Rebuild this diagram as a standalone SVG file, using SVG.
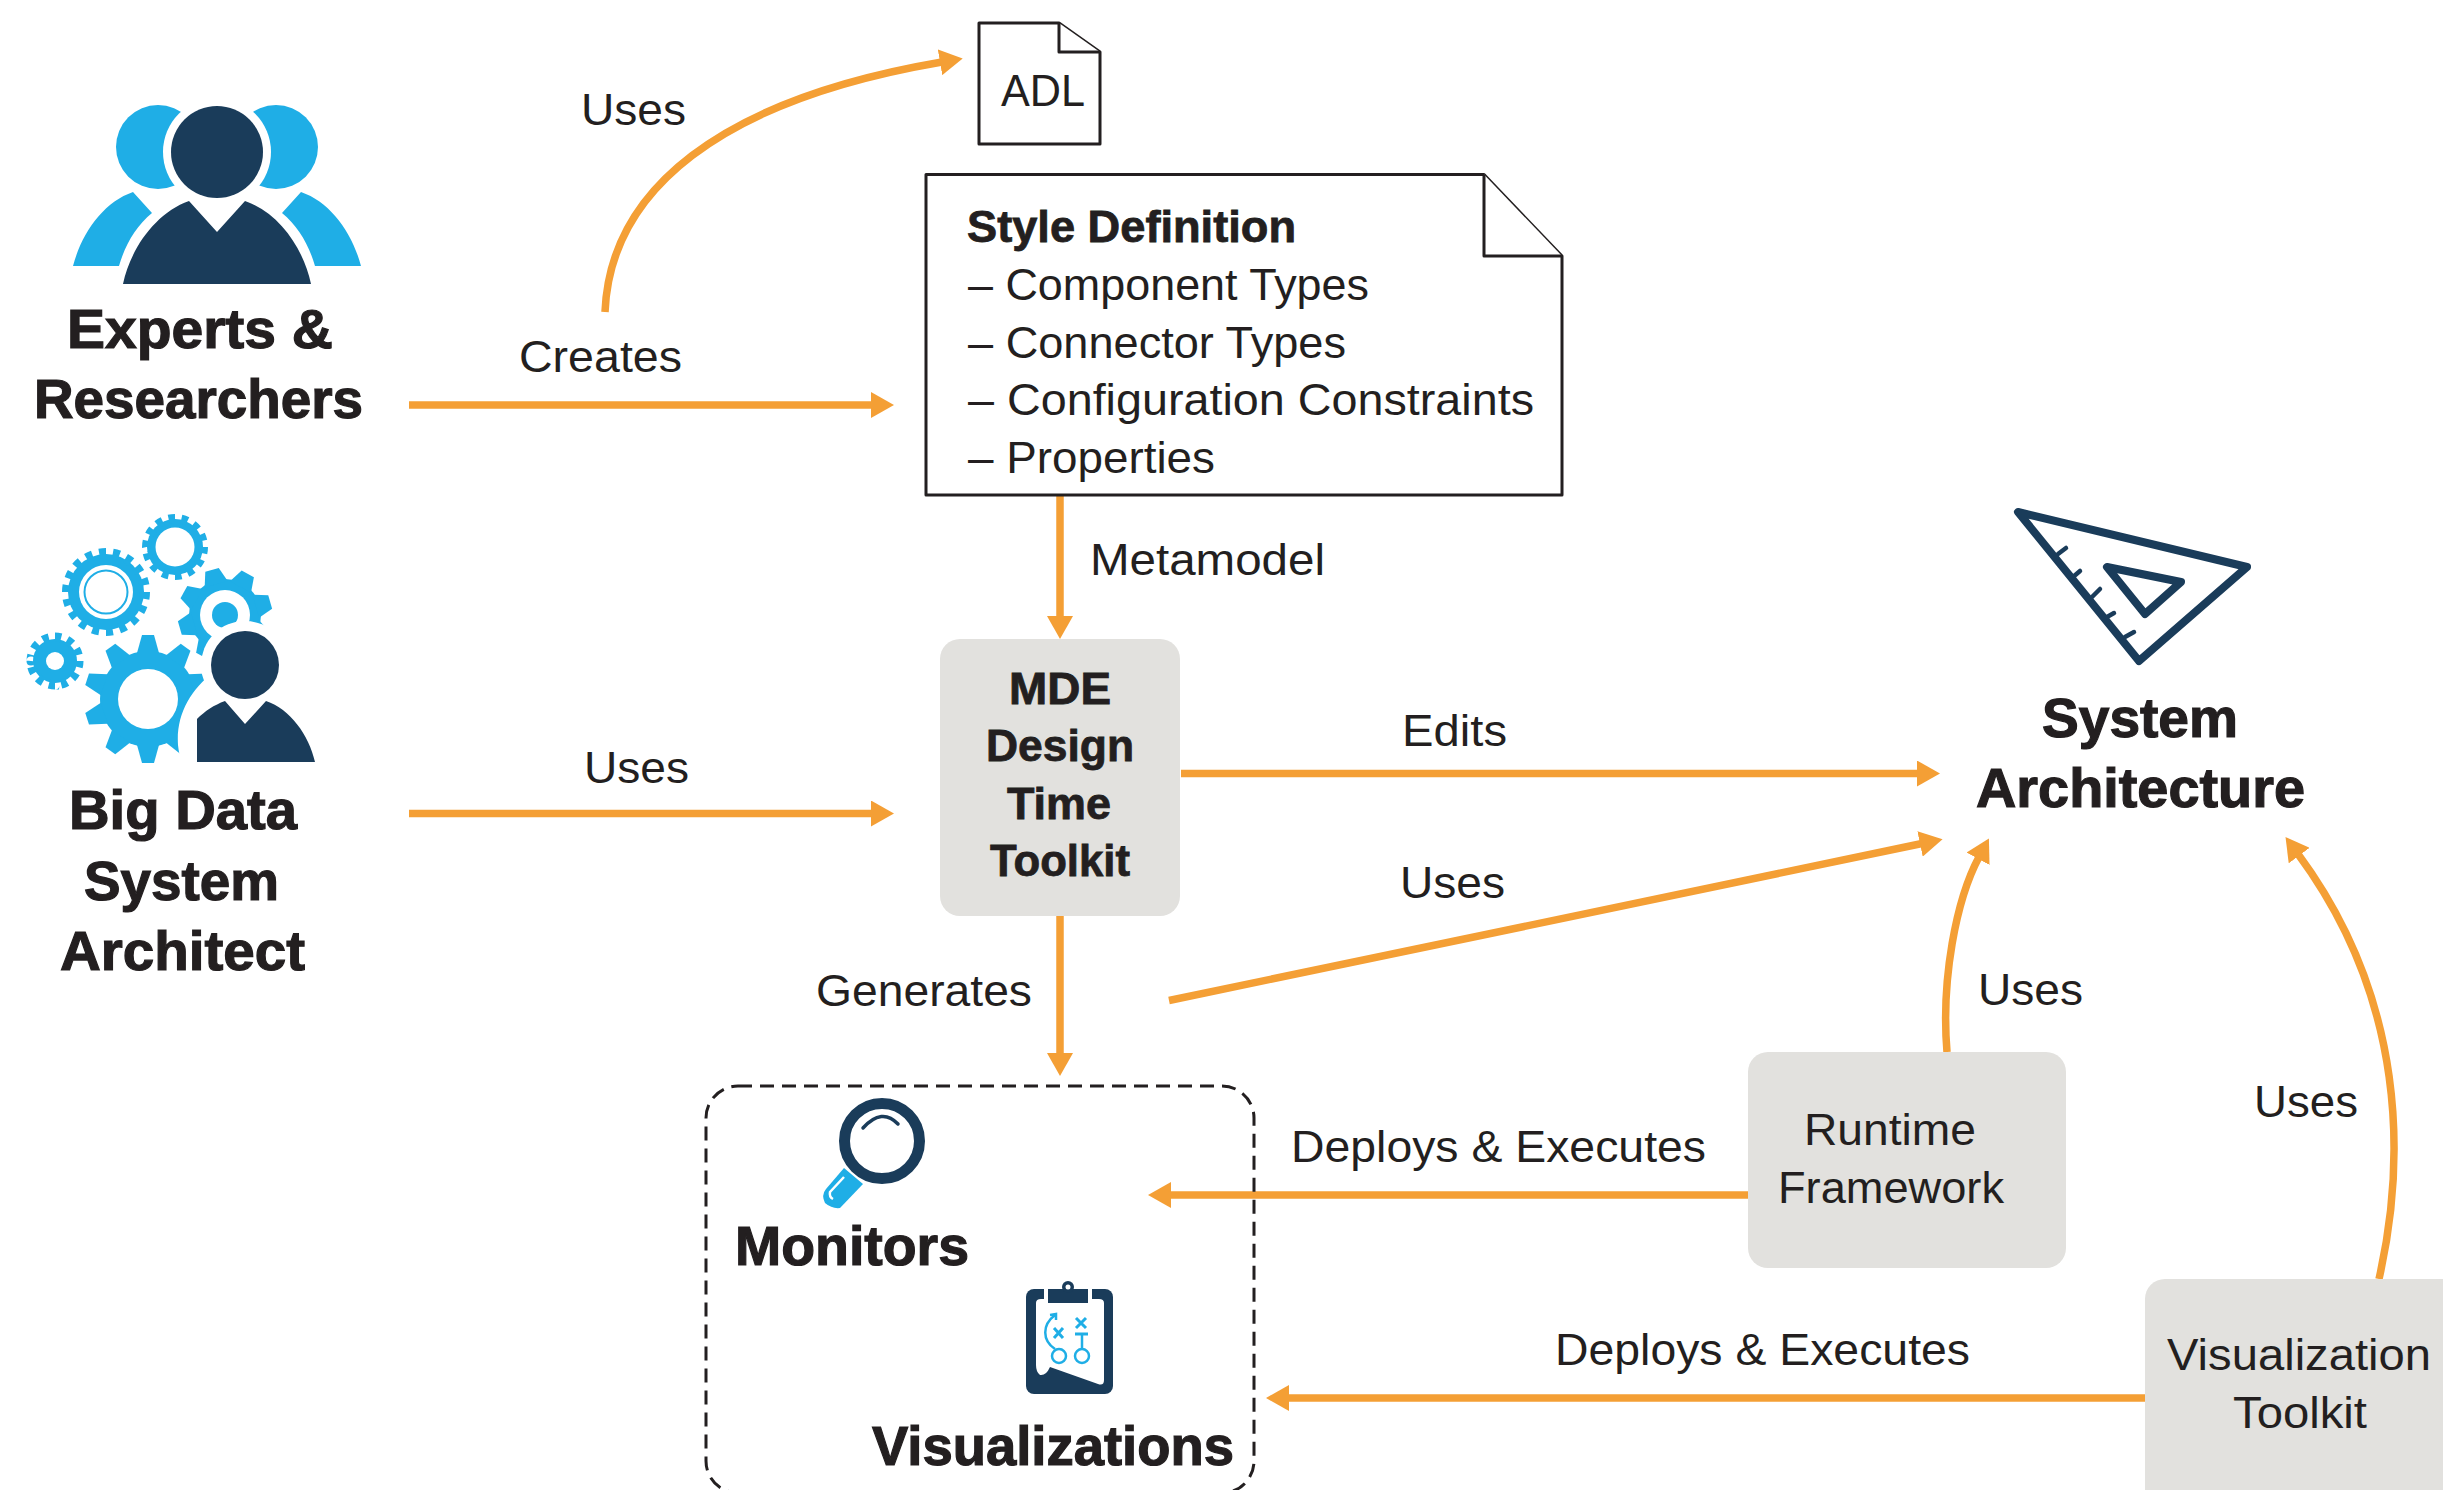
<svg xmlns="http://www.w3.org/2000/svg" xmlns:xlink="http://www.w3.org/1999/xlink" width="2443" height="1490" viewBox="0 0 2443 1490">
<style>
text{font-family:"Liberation Sans",Arial,sans-serif;fill:#231F20;}
.r{font-size:44px;}
.b{font-size:44px;font-weight:700;stroke:#231F20;stroke-width:.8px;}
.h{font-size:56px;font-weight:700;stroke:#231F20;stroke-width:1.2px;}
.c{fill:none;stroke:#F49F35;stroke-width:7.500;marker-end:url(#ah);}
.doc{fill:#fff;stroke:#231F20;stroke-width:3;stroke-linejoin:round;}
.box{fill:#E2E1DE;}
.d{fill:#1A3C5A;}
.u{fill:#1FAEE6;}
.w{fill:#fff;}
.cs{fill:none;stroke:#1FAEE6;stroke-width:2.5;}
</style>
<defs>
<marker id="ah" markerUnits="userSpaceOnUse" viewBox="0 0 23 26" refX="2" refY="13" markerWidth="23" markerHeight="26" orient="auto"><path d="M0 0L23 13L0 26Z" fill="#F49F35"/></marker>
<polygon id="tE" points="-11,-46 -6,-64 6,-64 11,-46" fill="#1FAEE6"/>
<polygon id="tC" points="-12,-32 -7,-47 7,-47 12,-32" fill="#1FAEE6"/>
</defs>
<rect width="2443" height="1490" fill="#fff"/>

<g id="connectors">
<path class="c" d="M605 312C610 190 720 100 942 62"/>
<path class="c" d="M409 405H873"/>
<path class="c" d="M409 813.500H873"/>
<path class="c" d="M1060 495V618"/>
<path class="c" d="M1181 773.500H1919"/>
<path class="c" d="M1169 1000.500L1922 843.500"/>
<path class="c" d="M1060 916V1055"/>
<path class="c" d="M1947 1052C1941 980 1956 900 1979 857"/>
<path class="c" d="M2379 1279C2406 1160 2406 1000 2298 854"/>
<path class="c" d="M1748 1195H1169"/>
<path class="c" d="M2145 1398H1287"/>
<text class="r" x="581" y="125" textLength="105" lengthAdjust="spacingAndGlyphs">Uses</text>
<text class="r" x="519" y="372" textLength="163" lengthAdjust="spacingAndGlyphs">Creates</text>
<text class="r" x="1090" y="575" textLength="235" lengthAdjust="spacingAndGlyphs">Metamodel</text>
<text class="r" x="584" y="783" textLength="105" lengthAdjust="spacingAndGlyphs">Uses</text>
<text class="r" x="1402" y="746" textLength="105" lengthAdjust="spacingAndGlyphs">Edits</text>
<text class="r" x="1400" y="898" textLength="105" lengthAdjust="spacingAndGlyphs">Uses</text>
<text class="r" x="816" y="1006" textLength="216" lengthAdjust="spacingAndGlyphs">Generates</text>
<text class="r" x="1978" y="1005" textLength="105" lengthAdjust="spacingAndGlyphs">Uses</text>
<text class="r" x="2254" y="1117" textLength="104" lengthAdjust="spacingAndGlyphs">Uses</text>
<text class="r" x="1291" y="1162" textLength="415" lengthAdjust="spacingAndGlyphs">Deploys &amp; Executes</text>
<text class="r" x="1555" y="1365" textLength="415" lengthAdjust="spacingAndGlyphs">Deploys &amp; Executes</text>
</g>

<g id="experts">
<circle class="u" cx="158" cy="147" r="42"/>
<circle class="u" cx="276" cy="147" r="42"/>
<circle class="w" cx="217" cy="152" r="54"/>
<circle class="d" cx="217" cy="152" r="46"/>
<path class="u" d="M73 266C82 232 104 202 133 192L152 213C136 226 125 245 119 266Z"/>
<path class="u" d="M361 266C352 232 330 202 301 192L282 213C298 226 309 245 315 266Z"/>
<path class="d" d="M123 284C130 250 155 213 189 201L217 232L245 201C280 213 304 250 311 284Z"/>
<text class="h" x="67" y="348" textLength="266" lengthAdjust="spacingAndGlyphs">Experts &amp;</text>
<text class="h" x="34" y="418" textLength="329" lengthAdjust="spacingAndGlyphs">Researchers</text>
</g>

<g id="architect">
<g id="gearA">
<circle class="u" cx="175" cy="547" r="28"/>
<circle cx="175" cy="547" r="28.500" fill="none" stroke="#1FAEE6" stroke-width="9" pathLength="28" stroke-dasharray="1 1"/>
<circle class="w" cx="175" cy="547" r="19.500"/>
</g>
<g id="gearB">
<circle class="u" cx="106" cy="592" r="38"/>
<circle cx="106" cy="592" r="39" fill="none" stroke="#1FAEE6" stroke-width="10" pathLength="36" stroke-dasharray="1 1"/>
<circle class="w" cx="106" cy="592" r="27"/>
<circle cx="106" cy="592" r="21.500" fill="none" stroke="#1FAEE6" stroke-width="2"/>
</g>
<g id="gearD">
<circle class="u" cx="55" cy="661" r="22"/>
<circle cx="55" cy="661" r="24" fill="none" stroke="#1FAEE6" stroke-width="9" pathLength="24" stroke-dasharray="1 1"/>
<circle class="w" cx="55" cy="661" r="9"/>
</g>
<g id="gearC" transform="translate(225 615)">
<circle class="u" r="36"/>
<use xlink:href="#tC" transform="rotate(-16)"/><use xlink:href="#tC" transform="rotate(29)"/><use xlink:href="#tC" transform="rotate(74)"/><use xlink:href="#tC" transform="rotate(119)"/><use xlink:href="#tC" transform="rotate(164)"/><use xlink:href="#tC" transform="rotate(209)"/><use xlink:href="#tC" transform="rotate(254)"/><use xlink:href="#tC" transform="rotate(299)"/>
<circle class="w" r="25"/>
<circle class="u" r="13"/>
</g>
<g id="gearE" transform="translate(148 699)">
<circle class="u" r="48"/>
<use xlink:href="#tE"/><use xlink:href="#tE" transform="rotate(36)"/><use xlink:href="#tE" transform="rotate(72)"/><use xlink:href="#tE" transform="rotate(108)"/><use xlink:href="#tE" transform="rotate(144)"/><use xlink:href="#tE" transform="rotate(180)"/><use xlink:href="#tE" transform="rotate(216)"/><use xlink:href="#tE" transform="rotate(252)"/><use xlink:href="#tE" transform="rotate(288)"/><use xlink:href="#tE" transform="rotate(324)"/>
<circle class="w" r="30"/>
</g>
<circle class="w" cx="245" cy="665" r="44"/>
<path class="w" d="M214 672C190 690 176 715 178 745C179 755 182 765 184 772H330V690L260 680Z"/>
<circle class="d" cx="245" cy="665" r="34"/>
<path class="d" d="M197 762V719C205 711 214 705 225 701L245 724L266 701C290 709 309 735 315 762Z"/>
<text class="h" x="69" y="829" textLength="228" lengthAdjust="spacingAndGlyphs">Big Data</text>
<text class="h" x="84" y="900" textLength="195" lengthAdjust="spacingAndGlyphs">System</text>
<text class="h" x="60" y="970" textLength="245" lengthAdjust="spacingAndGlyphs">Architect</text>
</g>

<g id="adl">
<path class="doc" d="M979 23H1059L1100 52V144H979Z"/>
<path class="doc" d="M1059 23V52H1100"/>
<text class="r" x="1001" y="106" textLength="84" lengthAdjust="spacingAndGlyphs">ADL</text>
</g>

<g id="style-definition">
<path class="doc" d="M926 174.500H1484L1562 256V495H926Z"/>
<path class="doc" d="M1484 174.500V256H1562"/>
<text class="b" x="967" y="242" textLength="329" lengthAdjust="spacingAndGlyphs">Style Definition</text>
<text class="r" x="968" y="300" textLength="401" lengthAdjust="spacingAndGlyphs">– Component Types</text>
<text class="r" x="968" y="358" textLength="378" lengthAdjust="spacingAndGlyphs">– Connector Types</text>
<text class="r" x="968" y="415" textLength="566" lengthAdjust="spacingAndGlyphs">– Configuration Constraints</text>
<text class="r" x="968" y="473" textLength="247" lengthAdjust="spacingAndGlyphs">– Properties</text>
</g>

<g id="mde-toolkit">
<rect class="box" x="940" y="639" width="240" height="277" rx="20"/>
<text class="b" x="1009" y="704" textLength="102" lengthAdjust="spacingAndGlyphs">MDE</text>
<text class="b" x="986" y="761" textLength="148" lengthAdjust="spacingAndGlyphs">Design</text>
<text class="b" x="1007" y="819" textLength="104" lengthAdjust="spacingAndGlyphs">Time</text>
<text class="b" x="990" y="876" textLength="140" lengthAdjust="spacingAndGlyphs">Toolkit</text>
</g>

<g id="system-architecture">
<path d="M2018 512L2247 567L2139 661Z" fill="none" stroke="#1A3C5A" stroke-width="8" stroke-linejoin="round"/>
<path d="M2107 567L2181 582L2145 614Z" fill="none" stroke="#1A3C5A" stroke-width="8" stroke-linejoin="round"/>
<path d="M2058 554L2066 548M2073 577L2080 571M2092 597L2100 589M2107 617L2114 613M2125 637L2134 632" fill="none" stroke="#1A3C5A" stroke-width="4.500" stroke-linecap="round"/>
<text class="h" x="2042" y="737" textLength="196" lengthAdjust="spacingAndGlyphs">System</text>
<text class="h" x="1976" y="807" textLength="329" lengthAdjust="spacingAndGlyphs">Architecture</text>
</g>

<g id="runtime-framework">
<rect class="box" x="1748" y="1052" width="318" height="216" rx="20"/>
<text class="r" x="1804" y="1145" textLength="172" lengthAdjust="spacingAndGlyphs">Runtime</text>
<text class="r" x="1778" y="1203" textLength="226" lengthAdjust="spacingAndGlyphs">Framework</text>
</g>

<g id="visualization-toolkit">
<rect class="box" x="2145" y="1279" width="330" height="240" rx="20"/>
<text class="r" x="2167" y="1370" textLength="264" lengthAdjust="spacingAndGlyphs">Visualization</text>
<text class="r" x="2233" y="1428" textLength="134" lengthAdjust="spacingAndGlyphs">Toolkit</text>
</g>

<g id="deployed-group">
<rect x="706" y="1086" width="548" height="407" rx="32" fill="none" stroke="#231F20" stroke-width="3" stroke-dasharray="14 8"/>
<g id="monitors">
<circle cx="882" cy="1141" r="37.500" fill="none" stroke="#1A3C5A" stroke-width="11"/>
<path d="M863 1128Q882 1107 898 1124" fill="none" stroke="#1A3C5A" stroke-width="3.500" stroke-linecap="round"/>
<path class="u" d="M844 1168L863 1184L840 1208Q832 1209 825 1203Q821 1195 826 1189Z"/>
<path d="M844 1177L830 1192Q829 1197 833 1199" fill="none" stroke="#fff" stroke-width="2.500"/>
<text class="h" x="735" y="1265" textLength="234" lengthAdjust="spacingAndGlyphs">Monitors</text>
</g>
<g id="visualizations">
<rect class="d" x="1026" y="1289" width="87" height="105" rx="8"/>
<path class="w" d="M1036 1303Q1036 1299 1041 1299H1099Q1104 1299 1104 1303V1380Q1104 1386 1098 1384L1050 1367Q1046 1376 1040 1375Q1036 1372 1036 1365Z"/>
<rect class="w" x="1044" y="1286" width="48" height="18"/>
<rect class="d" x="1048" y="1289" width="40" height="14"/>
<circle class="d" cx="1068" cy="1287" r="6"/>
<circle class="w" cx="1068" cy="1287" r="2.500"/>
<path class="cs" d="M1055 1349C1042 1340 1042 1325 1055 1315M1050 1315L1056 1314L1056 1320"/>
<path class="cs" style="stroke-width:3" d="M1054 1328L1063 1338M1063 1328L1054 1338M1076 1318L1086 1328M1086 1318L1076 1328M1075 1334H1088"/>
<path class="cs" d="M1082 1334V1349"/>
<circle class="cs" cx="1059" cy="1356" r="7"/>
<circle class="cs" cx="1082" cy="1356" r="7"/>
<text class="h" x="872" y="1465" textLength="362" lengthAdjust="spacingAndGlyphs">Visualizations</text>
</g>
</g>
</svg>
